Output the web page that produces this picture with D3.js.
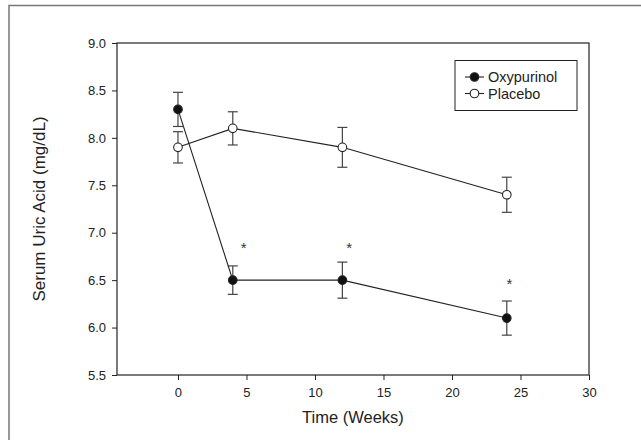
<!DOCTYPE html>
<html>
<head>
<meta charset="utf-8">
<script src="https://cdn.jsdelivr.net/npm/d3@7"></script>
<style>
  html, body { margin: 0; padding: 0; background: #fff; }
  svg { display: block; font-family: "Liberation Sans", Arial, sans-serif; }
</style>
</head>
<body>
<svg id="chart" width="641" height="440"></svg>
<script>
// ---- data ----
const weeks = [0, 4, 12, 24];
const oxypurinol = [8.3, 6.5, 6.5, 6.1];
const oxypurinolErr = [0.18, 0.15, 0.19, 0.18];
const placebo = [7.9, 8.1, 7.9, 7.4];
const placeboErr = [0.165, 0.175, 0.21, 0.185];
const seriesNames = ["Oxypurinol", "Placebo"];
const xTicks = [0, 5, 10, 15, 20, 25, 30];
const yTicks = [5.5, 6.0, 6.5, 7.0, 7.5, 8.0, 8.5, 9.0];
const starX = [4.8, 12.5, 24.2];
const starY = [6.88, 6.88, 6.5];
const xTitle = "Time (Weeks)";
const yTitle = "Serum Uric Acid (mg/dL)";

// ---- layout ----
const svg = d3.select("#chart");
const pL = 117, pR = 589, pT = 43, pB = 375;
const x = d3.scaleLinear().domain([-4.45, 30]).range([pL, pR]);
const y = d3.scaleLinear().domain([5.5, 9.0]).range([pB, pT]);
const ink = "#222";

// outer frame (scan border)
svg.append("path").attr("d", "M9,440 V5.5 H641")
  .attr("fill", "none").attr("stroke", "#777").attr("stroke-width", 1.5);

// axes
const xAxis = svg.append("g").attr("transform", `translate(0,${pB})`)
  .call(d3.axisBottom(x).tickValues(xTicks).tickFormat(d3.format("d")).tickSize(5).tickPadding(8));
const yAxis = svg.append("g").attr("transform", `translate(${pL},0)`)
  .call(d3.axisLeft(y).tickValues(yTicks).tickFormat(d3.format(".1f")).tickSize(5).tickPadding(6));
[xAxis, yAxis].forEach(g => {
  g.select(".domain").remove();
  g.selectAll("line").attr("stroke", ink).attr("stroke-width", 1);
  g.selectAll("text").attr("fill", ink).style("font-size", "13px");
});
// frame box
svg.append("rect").attr("x", pL).attr("y", pT)
  .attr("width", pR - pL).attr("height", pB - pT)
  .attr("fill", "none").attr("stroke", ink).attr("stroke-width", 1.2);

// titles
svg.append("text").attr("x", (pL + pR) / 2).attr("y", 423)
  .attr("text-anchor", "middle").attr("fill", ink).style("font-size", "16.5px").text(xTitle);
svg.append("text").attr("transform", `translate(45,${(pT + pB) / 2}) rotate(-90)`)
  .attr("text-anchor", "middle").attr("fill", ink).style("font-size", "17px").text(yTitle);

// series
const series = [
  { name: seriesNames[0], vals: oxypurinol, err: oxypurinolErr, fill: "#111" },
  { name: seriesNames[1], vals: placebo, err: placeboErr, fill: "#fff" }
];
const line = d3.line().x(d => x(d[0])).y(d => y(d[1]));
series.forEach(s => {
  const pts = weeks.map((w, i) => [w, s.vals[i], s.err[i]]);
  const eb = svg.append("g");
  pts.forEach(p => {
    const cx = x(p[0]);
    eb.append("line").attr("x1", cx).attr("x2", cx).attr("y1", y(p[1] + p[2])).attr("y2", y(p[1] - p[2]))
      .attr("stroke", "#444").attr("stroke-width", 1.2);
    [p[1] + p[2], p[1] - p[2]].forEach(v => {
      eb.append("line").attr("x1", cx - 5).attr("x2", cx + 5).attr("y1", y(v)).attr("y2", y(v))
        .attr("stroke", "#444").attr("stroke-width", 1.2);
    });
  });
  svg.append("path").datum(pts).attr("d", line)
    .attr("fill", "none").attr("stroke", ink).attr("stroke-width", 1.1);
});
series.forEach(s => {
  svg.append("g").selectAll("circle").data(weeks.map((w, i) => [w, s.vals[i]])).join("circle")
    .attr("cx", d => x(d[0])).attr("cy", d => y(d[1])).attr("r", 4.3)
    .attr("fill", s.fill).attr("stroke", ink).attr("stroke-width", 1.1);
});

// significance stars
svg.append("g").selectAll("text").data(starX.map((sx, i) => [sx, starY[i]])).join("text")
  .attr("x", d => x(d[0])).attr("y", d => y(d[1]) + 9)
  .attr("text-anchor", "middle").attr("fill", "#333").style("font-size", "15px").text("*");

// legend
const lg = svg.append("g");
lg.append("rect").attr("x", 455).attr("y", 60.5).attr("width", 122).attr("height", 50)
  .attr("fill", "#fff").attr("stroke", ink).attr("stroke-width", 1);
series.forEach((s, i) => {
  const ly = 77 + i * 16.5;
  lg.append("line").attr("x1", 465).attr("x2", 484).attr("y1", ly).attr("y2", ly)
    .attr("stroke", ink).attr("stroke-width", 1.1);
  lg.append("circle").attr("cx", 474.5).attr("cy", ly).attr("r", 4.3)
    .attr("fill", s.fill).attr("stroke", ink).attr("stroke-width", 1.1);
  lg.append("text").attr("x", 488).attr("y", ly).attr("dy", "0.35em")
    .attr("fill", ink).style("font-size", "14.5px").text(s.name);
});
</script>
</body>
</html>
